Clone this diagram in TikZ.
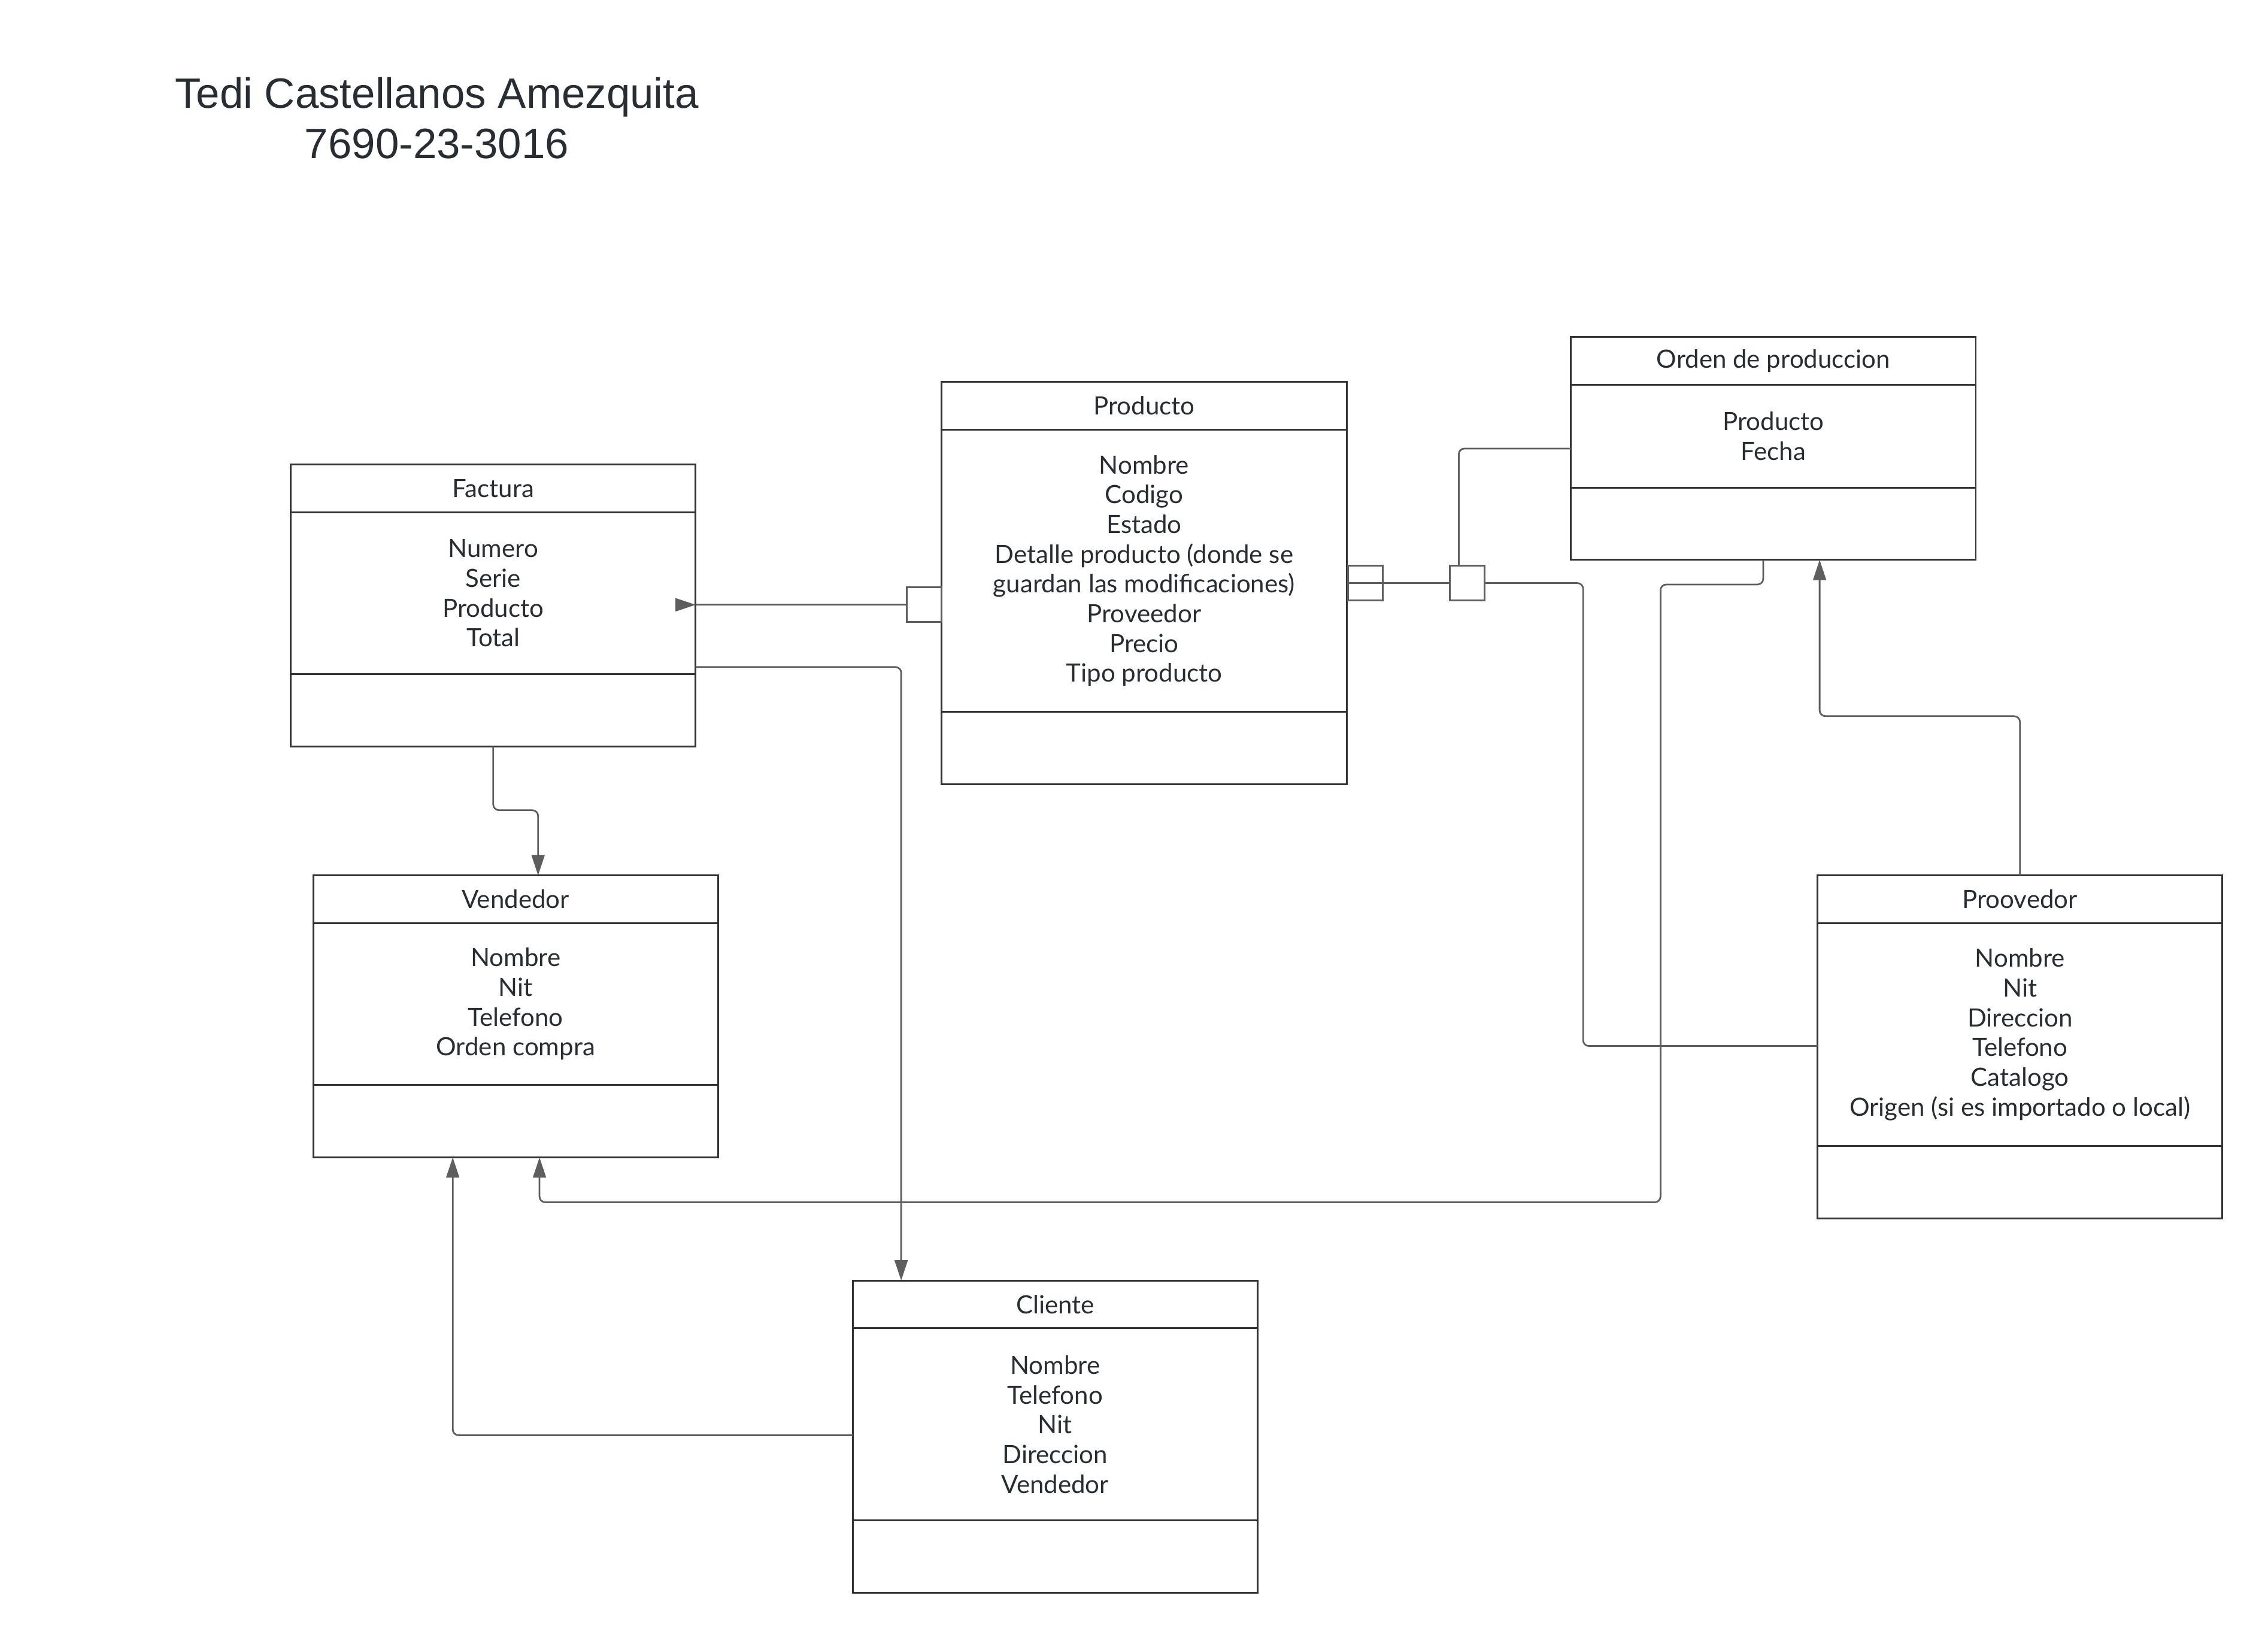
\documentclass[tikz,border=0pt]{standalone}
\usepackage{fontspec}
\setmainfont{Lato}
\newfontfamily\titlefont{Liberation Sans}
\usetikzlibrary{positioning, arrows.meta, calc}
\definecolor{boxLine}{HTML}{333333}
\definecolor{inkText}{HTML}{282C33}
\definecolor{linkGray}{HTML}{5E5E5E}

\begin{document}
\begin{tikzpicture}[
    x=0.02cm, y=-0.02cm,
    font=\fontsize{9.9}{11.7}\selectfont,
    text=inkText,
    >={Triangle[length=0.28cm, width=0.18cm]},
    node distance=0pt,
    head/.style={draw=boxLine, line width=0.7pt, minimum width=5.6cm,
                 minimum height=0.66cm, inner sep=0pt, outer sep=0pt},
    attrs/.style={head, align=center},
    foot/.style={head, minimum height=1cm},
    joint/.style={draw=linkGray, line width=0.7pt, fill=white,
                  minimum size=0.48cm, inner sep=0pt, outer sep=0pt},
    link/.style={draw=linkGray, line width=0.65pt, rounded corners=0.08cm},
  ]
  \useasboundingbox (0,0) rectangle (1568,1132);

  \node[font=\titlefont\fontsize{16.7}{19.8}\selectfont, align=center] (title)
    at (302,81.5) {Tedi Castellanos Amezquita\\7690-23-3016};

  % clases
  \node[head] (fac) at (341,337.5) {Factura};
  \node[attrs, minimum height=2.24cm, below=of fac] (fac-at)
    {Numero\\Serie\\Producto\\Total};
  \node[foot, below=of fac-at] (fac-op) {};

  \node[head] (prod) at (791,280.5) {Producto};
  \node[attrs, minimum height=3.9cm, below=of prod] (prod-at)
    {Nombre\\Codigo\\Estado\\Detalle producto (donde se\\guardan las modificaciones)\\Proveedor\\Precio\\Tipo producto};
  \node[foot, below=of prod-at] (prod-op) {};

  \node[head] (ord) at (1226,249.5) {Orden de produccion};
  \node[attrs, minimum height=1.42cm, below=of ord] (ord-at)
    {Producto\\Fecha};
  \node[foot, below=of ord-at] (ord-op) {};

  \node[head] (vend) at (356.5,621.5) {Vendedor};
  \node[attrs, minimum height=2.24cm, below=of vend] (vend-at)
    {Nombre\\Nit\\Telefono\\Orden compra};
  \node[foot, below=of vend-at] (vend-op) {};

  \node[head] (prov) at (1396.5,621.5) {Proovedor};
  \node[attrs, minimum height=3.08cm, below=of prov] (prov-at)
    {Nombre\\Nit\\Direccion\\Telefono\\Catalogo\\Origen (si es importado o local)};
  \node[foot, below=of prov-at] (prov-op) {};

  \node[head] (cli) at (729.5,901.5) {Cliente};
  \node[attrs, minimum height=2.66cm, below=of cli] (cli-at)
    {Nombre\\Telefono\\Nit\\Direccion\\Vendedor};
  \node[foot, below=of cli-at] (cli-op) {};

  % uniones
  \node[joint] (jfac) at (639,418) {};
  \node[joint] (jprod) at (944,403) {};
  \node[joint] (jord) at (1014.5,403) {};

  % Producto - Factura
  \coordinate (fac-in) at (jfac.west -| fac-at.east);
  \draw[link] (jfac.west) -- (fac-in);
  \draw[link, ->] ([xshift=-0.28cm]fac-in) -- (fac-in);

  % Producto - Orden - Proovedor
  \draw[link] (jprod.west) -- (jord.west);
  \draw[link] ([xshift=-0.12cm]jord.north) |- ([yshift=-0.17cm]ord-at.west);
  \draw[link] (jord.east) -- ++(68,0) |- ([yshift=-0.16cm]prov-at.west);

  % Factura - Cliente
  \draw[link, ->] ([yshift=0.1cm]fac-op.north east) -| ([xshift=-2.13cm]cli.north);

  % Factura - Vendedor
  \draw[link, ->] (fac-op.south) -- ++(0,44) -| ([xshift=0.31cm]vend.north);

  % Orden - Vendedor
  \draw[link, ->] ([xshift=-0.14cm]ord-op.south) -- ++(0,17) -- ++(-71,0)
    -- ++(0,427) -| ([xshift=0.33cm]vend-op.south);

  % Proovedor - Orden
  \draw[link, ->] (prov.north) -- ++(0,-110) -| ([xshift=0.64cm]ord-op.south);

  % Cliente - Vendedor
  \draw[link, ->] ([yshift=-0.15cm]cli-at.west) -| ([xshift=-0.87cm]vend-op.south);
\end{tikzpicture}
\end{document}
